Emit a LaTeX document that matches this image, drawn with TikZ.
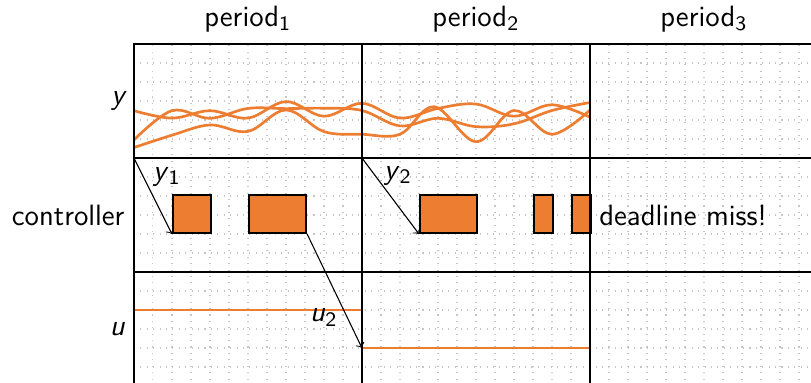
\documentclass[tikz,border=0pt]{standalone}
\definecolor{sigorange}{RGB}{237,125,49}
\begin{document}
\begin{tikzpicture}[x=0.25cm,y=0.25cm,
  every node/.style={font=\sffamily\fontsize{11}{13}\selectfont},
  frameline/.style={line width=0.9pt},
  gridline/.style={gray!45, dotted, line width=0.4pt},
  sig/.style={draw=sigorange, line width=1pt},
  taskbox/.style={draw=black, line width=0.8pt, fill=sigorange, inner sep=0pt, minimum height=0.5cm, anchor=south west},
  flow/.style={->, line width=0.4pt}
]
\useasboundingbox (-7.05,2.316) rectangle (35.63,-17.79);
\clip (-7.05,2.316) rectangle (35.63,-17.79);
\draw[gridline, step=0.25cm] (0,0) grid (36,-18);
% output signal curves
\draw[sig] plot[smooth, tension=0.6] coordinates {(0,-3.51) (2,-3.9) (4,-3.51) (6,-3.9) (8,-3.03) (10,-3.8) (12,-3.12) (14,-3.9) (16,-3.39) (18,-3.16) (20,-3.8) (22,-3.2) (24,-3.85)};
\draw[sig] plot[smooth, tension=0.6] coordinates {(0,-5.05) (2,-3.51) (4,-3.91) (6,-3.39) (8,-3.4) (10,-3.38) (12,-3.5) (14,-4.31) (16,-3.91) (18,-4.35) (20,-4.2) (22,-3.5) (24,-3.08)};
\draw[sig] plot[smooth, tension=0.6] coordinates {(0,-5.45) (2,-4.8) (4,-4.26) (6,-4.6) (8,-3.47) (10,-4.61) (12,-4.75) (14,-4.75) (15.8,-3.3) (18,-5.14) (20,-3.5) (22,-4.75) (24,-3.47)};
% control signal
\coordinate (u1s) at (0,-14);
\coordinate (u1e) at (12,-14);
\coordinate (u2s) at (12,-16);
\coordinate (u2e) at (24,-16);
\draw[sig] (u1s) -- (u1e);
\draw[sig] (u2s) -- (u2e);
% controller jobs
\node[taskbox, minimum width=0.5cm]  (b1) at (2,-10) {};
\node[taskbox, minimum width=0.75cm] (b2) at (6,-10) {};
\node[taskbox, minimum width=0.75cm] (b3) at (15,-10) {};
\node[taskbox, minimum width=0.25cm] (b4) at (21,-10) {};
\node[taskbox, minimum width=0.25cm] (b5) at (23,-10) {};
% frame
\draw[frameline] (0,0) rectangle (36,-18);
\draw[frameline] (12,0) -- (12,-18);
\draw[frameline] (24,0) -- (24,-18);
\draw[frameline] (0,-6) -- (36,-6);
\draw[frameline] (0,-12) -- (36,-12);
% sampling / actuation arrows
\coordinate (s1) at (0,-6);
\coordinate (s2) at (12,-6);
\draw[flow] (s1) -- (b1.south west) node[pos=0.5, shift={(0.74,1)}] {\textsl{y}\textsubscript{1}};
\draw[flow] (s2) -- (b3.south west) node[pos=0.5, shift={(0.4,1.05)}] {\textsl{y}\textsubscript{2}};
\draw[flow] (b2.south east) -- (u2s) node[pos=0.75, shift={(-1.28,0.1)}] {\textsl{u}\textsubscript{2}};
% labels
\node[left] (ly) at (0,-3) {\slshape y};
\node[left] (lc) at (0,-9) {controller};
\node[left] (lu) at (0,-15) {\slshape u};
\node[above, yshift=1pt] (p1) at (6,0) {period\textsubscript{1}};
\node[above, yshift=1pt] (p2) at (18,0) {period\textsubscript{2}};
\node[above, yshift=1pt] (p3) at (30,0) {period\textsubscript{3}};
\node[right] (dm) at (24,-9) {deadline miss!};
\end{tikzpicture}
\end{document}
